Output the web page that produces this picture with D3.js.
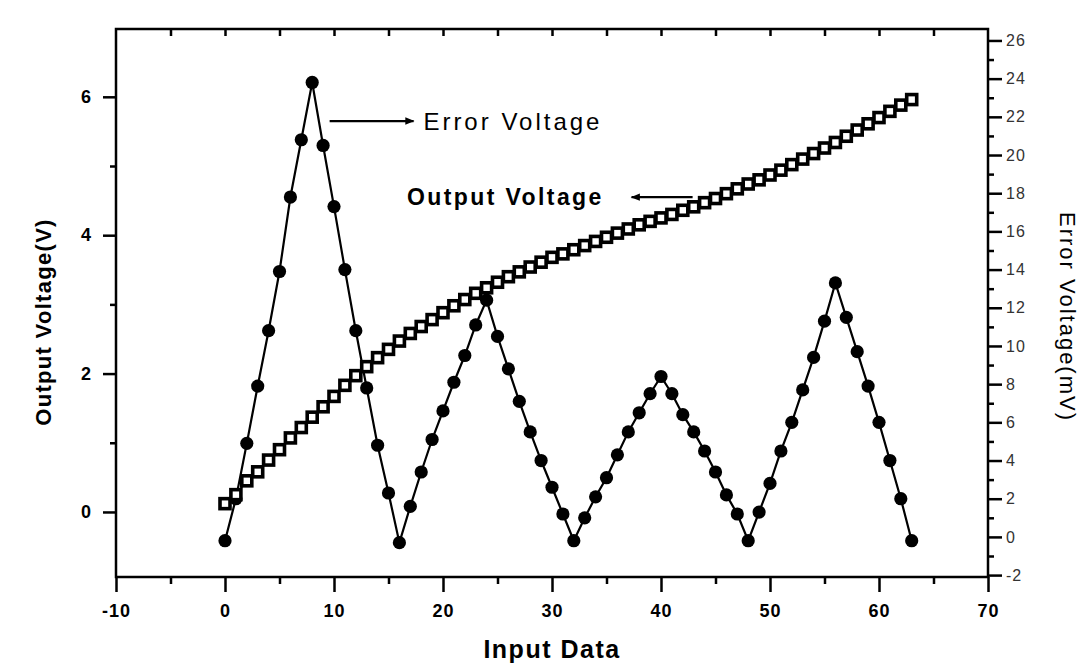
<!DOCTYPE html>
<html>
<head>
<meta charset="utf-8">
<script src="https://cdn.jsdelivr.net/npm/d3@7"></script>
<style>
  body { margin: 0; background: #fff; }
  svg text { font-family: "Liberation Sans", Arial, Helvetica, sans-serif; fill: #000; }
</style>
</head>
<body>
<div class="container"></div>
<script>
var W = 1087, H = 665;
var svg = d3.select('.container').append('svg').attr('width', W).attr('height', H);

// input codes 0..63
var inputData = d3.range(0, 64);

// output voltage (V), left axis
var outputVoltage = [0.12, 0.25, 0.45, 0.58, 0.75, 0.90, 1.07, 1.22, 1.37, 1.52,
  1.67, 1.83, 1.97, 2.10, 2.23, 2.35, 2.47, 2.58, 2.68, 2.78,
  2.88, 2.98, 3.07, 3.16, 3.24, 3.32, 3.40, 3.47, 3.54, 3.61,
  3.68, 3.73, 3.79, 3.85, 3.91, 3.97, 4.03, 4.09, 4.15, 4.20,
  4.25, 4.30, 4.36, 4.41, 4.47, 4.53, 4.60, 4.67, 4.74, 4.80,
  4.87, 4.94, 5.02, 5.10, 5.18, 5.26, 5.34, 5.43, 5.52, 5.61,
  5.70, 5.79, 5.88, 5.96];

// error voltage (mV), right axis
var errorVoltage = [-0.2, 2.0, 4.9, 7.9, 10.8, 13.9, 17.8, 20.8, 23.8, 20.5,
  17.3, 14.0, 10.8, 7.8, 4.8, 2.3, -0.3, 1.6, 3.4, 5.1,
  6.6, 8.1, 9.5, 11.1, 12.4, 10.5, 8.8, 7.1, 5.5, 4.0,
  2.6, 1.2, -0.2, 1.0, 2.1, 3.1, 4.3, 5.5, 6.5, 7.5,
  8.4, 7.5, 6.4, 5.5, 4.5, 3.4, 2.2, 1.2, -0.2, 1.3,
  2.8, 4.5, 6.0, 7.7, 9.4, 11.3, 13.3, 11.5, 9.7, 7.9,
  6.0, 4.0, 2.0, -0.2];

var xTicks = d3.range(-10, 71, 10);
var xMinor = d3.range(-5, 70, 10);
var xTopTicks = d3.range(-5, 70, 5);
var leftTicks = [0, 2, 4, 6];
var leftMinor = [1, 3, 5];
var rightTicks = d3.range(-2, 27, 2);
var rightMinor = d3.range(-1, 27, 2);

var L = 116, R = 988, T = 29, B = 577;

var x = d3.scaleLinear().domain([-10, 70]).range([L, R]);
var yL = d3.scaleLinear().domain([-0.94, 6.98]).range([B, T]);
var yR = d3.scaleLinear().domain([-2.1, 26.6]).range([B, T]);

var plain = function (d) { return String(d); };   // hyphen minus like the original

// frame
svg.append('rect').attr('x', L).attr('y', T).attr('width', R - L).attr('height', B - T)
  .attr('fill', 'none').attr('stroke', '#000').attr('stroke-width', 2.5);

function styleAxis(g, size, weight) {
  g.select('.domain').remove();
  g.selectAll('.tick line').attr('stroke', '#000').attr('stroke-width', 2.5);
  g.selectAll('.tick text').style('font-size', size + 'px').style('font-weight', weight);
}

// bottom axis
var gB = svg.append('g').attr('transform', 'translate(0,' + B + ')')
  .call(d3.axisBottom(x).tickValues(xTicks).tickFormat(plain).tickSize(15).tickPadding(10));
styleAxis(gB, 18, 'bold');
gB.selectAll('.tick text').attr('dy', '0.85em').style('letter-spacing', '1px');
svg.append('g').attr('transform', 'translate(0,' + B + ')')
  .call(d3.axisBottom(x).tickValues(xMinor).tickSize(7).tickFormat(''))
  .call(function (g) { styleAxis(g, 0, 'normal'); });

// top axis, inward ticks
svg.append('g').attr('transform', 'translate(0,' + T + ')')
  .call(d3.axisBottom(x).tickValues(xTopTicks).tickSize(7).tickFormat(''))
  .call(function (g) { styleAxis(g, 0, 'normal'); });

// left axis
var gL = svg.append('g').attr('transform', 'translate(' + L + ',0)')
  .call(d3.axisLeft(yL).tickValues(leftTicks).tickFormat(plain).tickSize(13).tickPadding(12));
styleAxis(gL, 18, 'bold');
svg.append('g').attr('transform', 'translate(' + L + ',0)')
  .call(d3.axisLeft(yL).tickValues(leftMinor).tickSize(6).tickFormat(''))
  .call(function (g) { styleAxis(g, 0, 'normal'); });

// right axis
var gR = svg.append('g').attr('transform', 'translate(' + R + ',0)')
  .call(d3.axisRight(yR).tickValues(rightTicks).tickFormat(plain).tickSize(14).tickPadding(4));
styleAxis(gR, 16, 'normal');
gR.selectAll('.tick text').style('fill', '#333').style('letter-spacing', '1px');
svg.append('g').attr('transform', 'translate(' + R + ',0)')
  .call(d3.axisRight(yR).tickValues(rightMinor).tickSize(6).tickFormat(''))
  .call(function (g) { styleAxis(g, 0, 'normal'); });

// axis titles
svg.append('text').attr('x', (L + R) / 2).attr('y', 658).attr('text-anchor', 'middle')
  .style('font-size', '25px').style('font-weight', 'bold').style('letter-spacing', '1.5px')
  .text('Input Data');
svg.append('text').attr('transform', 'translate(51,322) rotate(-90)').attr('text-anchor', 'middle')
  .style('font-size', '22px').style('font-weight', 'bold').style('letter-spacing', '1.3px')
  .text('Output Voltage(V)');
svg.append('text').attr('transform', 'translate(1060,317) rotate(90)').attr('text-anchor', 'middle')
  .style('font-size', '22px').style('letter-spacing', '2px')
  .text('Error Voltage(mV)');

// error voltage series
var lineE = d3.line().x(function (d, i) { return x(inputData[i]); }).y(function (d) { return yR(d); });
svg.append('path').datum(errorVoltage).attr('d', lineE)
  .attr('fill', 'none').attr('stroke', '#000').attr('stroke-width', 2.2);
svg.append('g').selectAll('circle').data(errorVoltage).enter().append('circle')
  .attr('cx', function (d, i) { return x(inputData[i]); })
  .attr('cy', function (d) { return yR(d); })
  .attr('r', 6.6).attr('fill', '#000');

// output voltage series
var lineO = d3.line().x(function (d, i) { return x(inputData[i]); }).y(function (d) { return yL(d); });
svg.append('path').datum(outputVoltage).attr('d', lineO)
  .attr('fill', 'none').attr('stroke', '#000').attr('stroke-width', 2);
var sq = 10;
svg.append('g').selectAll('rect').data(outputVoltage).enter().append('rect')
  .attr('x', function (d, i) { return x(inputData[i]) - sq / 2; })
  .attr('y', function (d) { return yL(d) - sq / 2; })
  .attr('width', sq).attr('height', sq)
  .attr('fill', '#fff').attr('stroke', '#000').attr('stroke-width', 3.6);

// annotations with arrows
var defs = svg.append('defs');
defs.append('marker').attr('id', 'arr').attr('viewBox', '0 0 10 10')
  .attr('refX', 9).attr('refY', 5).attr('markerWidth', 7).attr('markerHeight', 4)
  .attr('orient', 'auto-start-reverse')
  .append('path').attr('d', 'M0,1 L10,5 L0,9 Z').attr('fill', '#000');

var errLabelY = 5.65, outLabelY = 4.55;
svg.append('line').attr('x1', x(9.6)).attr('x2', x(17.3))
  .attr('y1', yL(errLabelY)).attr('y2', yL(errLabelY))
  .attr('stroke', '#000').attr('stroke-width', 2.3).attr('marker-end', 'url(#arr)');
svg.append('text').attr('x', x(18.2)).attr('y', yL(errLabelY)).attr('dy', '0.36em')
  .style('font-size', '24px').style('letter-spacing', '3px').text('Error Voltage');

svg.append('line').attr('x1', x(42.9)).attr('x2', x(37.3))
  .attr('y1', yL(outLabelY)).attr('y2', yL(outLabelY))
  .attr('stroke', '#000').attr('stroke-width', 2.3).attr('marker-end', 'url(#arr)');
svg.append('text').attr('x', x(16.7)).attr('y', yL(outLabelY)).attr('dy', '0.36em')
  .style('font-size', '23px').style('font-weight', 'bold').style('letter-spacing', '2.4px')
  .text('Output Voltage');
</script>
</body>
</html>
